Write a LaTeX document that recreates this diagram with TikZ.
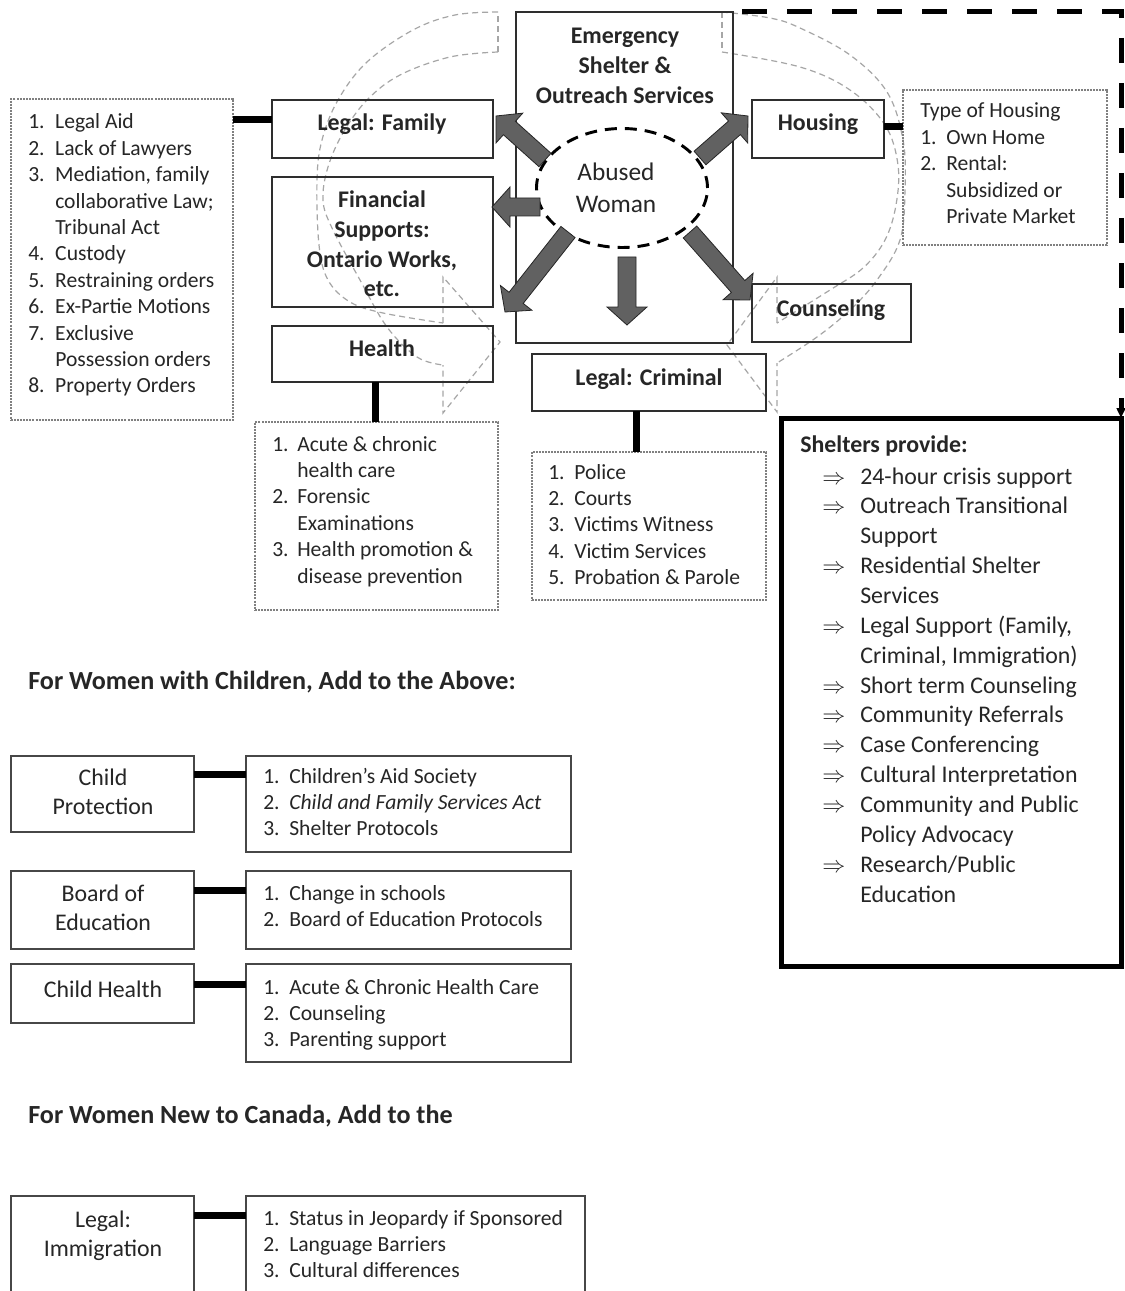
\documentclass[tikz,border=0pt]{standalone}
\usepackage{fontspec}
\setmainfont{Carlito}
\usetikzlibrary{calc,arrows.meta,shapes.geometric}
\newcommand\fS{\fontsize{16.2}{19.8}\selectfont}
\newcommand\fB{\fontsize{17.9}{22.2}\selectfont}
\newcommand\fH{\fontsize{19.6}{24}\selectfont}
\newcommand\fW{\fontsize{19}{23.3}\selectfont}
\newlength\numw
\newcommand\itm[2]{\makebox[\numw][l]{#1}#2}
\newcommand\ltab[1]{\begin{tabular}[t]{@{}l@{}}#1\end{tabular}}
\newcommand\ctab[1]{\begin{tabular}[t]{@{}c@{}}#1\end{tabular}}
\newcommand\bx[6]{\node[#1, minimum width={(#5-#3)*0.75pt}, minimum height={(#6-#4)*0.75pt}] (#2) at ({(#3+#5)/2},{(#4+#6)/2}) {};}
\newcommand\blockarrow[2]{%
  \path ($(#2)!13.5pt!(#1)$) coordinate (ba-hb);
  \filldraw[barrow] ($(#1)!6.75pt!90:(#2)$) -- ($(ba-hb)!6.75pt!90:(#2)$) -- ($(ba-hb)!15pt!90:(#2)$) -- (#2) -- ($(ba-hb)!15pt!-90:(#2)$) -- ($(ba-hb)!6.75pt!-90:(#2)$) -- ($(#1)!6.75pt!-90:(#2)$) -- cycle;}
\begin{document}
\begin{tikzpicture}[x=0.75pt,y=-0.75pt,
  box/.style={draw=black!82, line width=1.2pt, inner sep=0, outer sep=0},
  bbox/.style={draw=black!72, line width=1.1pt, inner sep=0, outer sep=0},
  lbox/.style={draw=black!50, line width=0.8pt, dash pattern=on 1.5pt off 0.8pt, inner sep=0, outer sep=0},
  shel/.style={draw=black, line width=3.75pt, inner sep=0, outer sep=0},
  conn/.style={line width=5.25pt, black},
  txt/.style={inner sep=0, text=black!85},
  curv/.style={draw=black!35, line width=0.9pt, dash pattern=on 4.5pt off 3pt},
  barrow/.style={fill=black!62, draw=black!85, line width=0.6pt},
  bigdash/.style={line width=3.75pt, black, dash pattern=on 18.75pt off 15pt},
  ell/.style={ellipse, draw=black, line width=2.2pt, dash pattern=on 9pt off 6pt, inner sep=0}]
\path[fill=white, use as bounding box] (0,0) rectangle (1124,1291);

% faint curved arrows in the background
\draw[curv] (498,52) -- (498,12);
\draw[curv] plot[smooth, tension=0.6] coordinates {(498,12) (455,15) (413,30) (367,62) (338,100) (322,140) (317,180) (319,245) (328,280) (350,302) (383,313) (443,323)};
\draw[curv] plot[smooth, tension=0.6] coordinates {(498,52) (450,57) (400,75) (367,100) (343,133) (328,167) (323,200) (332,228) (360,280) (387,327) (417,357) (443,365)};
\draw[curv] (443,323) -- (443,277) -- (500,342) -- (443,413) -- (443,365);
\draw[curv] (722,12) -- (722,52);
\draw[curv] plot[smooth, tension=0.6] coordinates {(722,12) (770,18) (800,28) (850,55) (887,92) (903,140) (905,190) (900,240) (877,280) (850,310) (817,337) (777,363)};
\draw[curv] plot[smooth, tension=0.6] coordinates {(722,52) (800,67) (850,90) (885,125) (898,165) (896,205) (885,240) (863,268) (830,290) (777,323)};
\draw[curv] (777,323) -- (777,277) -- (727,345) -- (777,412) -- (777,363);

% boxes
\bx{lbox}{llist}{11}{99}{233}{420}
\bx{box}{lfam}{272}{100}{493}{158}
\bx{box}{fin}{272}{177}{493}{307}
\bx{box}{hea}{272}{326}{493}{382}
\bx{lbox}{hlist}{255}{422}{498}{610}
\bx{box}{emerg}{516}{12}{733}{343}
\bx{box}{hous}{752}{100}{884}{158}
\bx{lbox}{houslist}{903}{90}{1107}{245}
\bx{box}{couns}{752}{284}{911}{342}
\bx{box}{crim}{532}{354}{766}{411}
\bx{lbox}{crimlist}{532}{452}{766}{600}
\bx{shel}{shelter}{781}{418}{1121}{966}
\bx{bbox}{cp}{11}{756}{194}{832}
\bx{bbox}{cpl}{246}{756}{571}{852}
\bx{bbox}{be}{11}{871}{194}{949}
\bx{bbox}{bel}{246}{871}{571}{949}
\bx{bbox}{ch}{11}{964}{194}{1023}
\bx{bbox}{chl}{246}{964}{571}{1062}
\bx{bbox}{li}{11}{1196}{194}{1310}
\bx{bbox}{lil}{246}{1196}{585}{1310}

% abused woman ellipse
\node[ell, minimum width=171*0.75pt, minimum height=119*0.75pt] (aw) at (622,188) {};

% block arrows
\coordinate (a1s) at (545,160); \coordinate (a1e) at (496,116);
\coordinate (a2s) at (540,207); \coordinate (a2e) at (492,207);
\coordinate (a3s) at (568,232); \coordinate (a3e) at (505,312);
\coordinate (a4s) at (627,257); \coordinate (a4e) at (627,325);
\coordinate (a5s) at (690,232); \coordinate (a5e) at (750,300);
\coordinate (a6s) at (700,158); \coordinate (a6e) at (748,116);
\blockarrow{a1s}{a1e}
\blockarrow{a2s}{a2e}
\blockarrow{a3s}{a3e}
\blockarrow{a4s}{a4e}
\blockarrow{a5s}{a5e}
\blockarrow{a6s}{a6e}

% connectors
\draw[conn] ([yshift=6.75pt]lfam.west) -- ([yshift=6.75pt]lfam.west -| llist.east);
\draw[conn] ([xshift=-4.9pt]hea.south) -- ([xshift=-4.9pt]hea.south |- hlist.north);
\draw[conn] ([xshift=-9.75pt]crim.south) -- ([xshift=-9.75pt]crim.south |- crimlist.north);
\draw[conn] ([yshift=1.5pt]hous.east) -- ([yshift=1.5pt]hous.east -| houslist.west);
\draw[conn] ([yshift=-13.5pt]cp.north east) -- ([yshift=-13.5pt]cp.north east -| cpl.west);
\draw[conn] ([yshift=-14.25pt]be.north east) -- ([yshift=-14.25pt]be.north east -| bel.west);
\draw[conn] ([yshift=-15pt]ch.north east) -- ([yshift=-15pt]ch.north east -| chl.west);
\draw[conn] ([yshift=-14.25pt]li.north east) -- ([yshift=-14.25pt]li.north east -| lil.west);
\draw[bigdash, -{Triangle[length=7.5pt,width=6.5pt]}] ([xshift=6.75pt]emerg.north east) -| (shelter.north east);

% titles
\node[txt, anchor=base, font=\fB\bfseries] (t-em) at (625,44) {\ctab{Emergency\\Shelter \&\\Outreach Services}};
\node[txt, anchor=base, font=\fW] (t-aw) at (616,181) {\ctab{Abused\\Woman}};
\node[txt, anchor=base, font=\fB\bfseries] (t-lfam) at (382,131) {Legal: Family};
\node[txt, anchor=base, font=\fB\bfseries] (t-fin) at (382,208) {\ctab{Financial\\Supports:\\Ontario Works,\\etc.}};
\node[txt, anchor=base, font=\fB\bfseries] (t-hea) at (382,356) {Health};
\node[txt, anchor=base, font=\fB\bfseries] (t-hous) at (818,131) {Housing};
\node[txt, anchor=base, font=\fB\bfseries] (t-couns) at (831,316) {Counseling};
\node[txt, anchor=base, font=\fB\bfseries] (t-crim) at (649,385) {Legal: Criminal};

% lists
\node[txt, anchor=base west] (t-llist) at (28,129) {\setlength\numw{20.25pt}\fS\ltab{%
\itm{1.}{Legal Aid}\\ \itm{2.}{Lack of Lawyers}\\ \itm{3.}{Mediation, family}\\ \itm{}{collaborative Law;}\\ \itm{}{Tribunal Act}\\ \itm{4.}{Custody}\\ \itm{5.}{Restraining orders}\\ \itm{6.}{Ex-Partie Motions}\\ \itm{7.}{Exclusive}\\ \itm{}{Possession orders}\\ \itm{8.}{Property Orders}}};
\node[txt, anchor=base west] (t-hlist) at (272,451) {\setlength\numw{18.75pt}\fS\ltab{%
\itm{1.}{Acute \& chronic}\\ \itm{}{health care}\\ \itm{2.}{Forensic}\\ \itm{}{Examinations}\\ \itm{3.}{Health promotion \&}\\ \itm{}{disease prevention}}};
\node[txt, anchor=base west] (t-clist) at (548,479) {\setlength\numw{19.5pt}\fS\ltab{%
\itm{1.}{Police}\\ \itm{2.}{Courts}\\ \itm{3.}{Victims Witness}\\ \itm{4.}{Victim Services}\\ \itm{5.}{Probation \& Parole}}};
\node[txt, anchor=base west] (t-houslist) at (920,118) {\setlength\numw{19.5pt}\fS\ltab{%
Type of Housing\\ \itm{1.}{Own Home}\\ \itm{2.}{Rental:}\\ \itm{}{Subsidized or}\\ \itm{}{Private Market}}};
\node[txt, anchor=base west, font=\fB\bfseries] (t-shel) at (800,452) {Shelters provide:};
\node[txt, anchor=base west] (t-shellist) at (822,484) {\setlength\numw{28.5pt}\fontsize{17.9}{22.4}\selectfont\ltab{%
\itm{$\Rightarrow$}{24-hour crisis support}\\ \itm{$\Rightarrow$}{Outreach Transitional}\\ \itm{}{Support}\\ \itm{$\Rightarrow$}{Residential Shelter}\\ \itm{}{Services}\\ \itm{$\Rightarrow$}{Legal Support (Family,}\\ \itm{}{Criminal, Immigration)}\\ \itm{$\Rightarrow$}{Short term Counseling}\\ \itm{$\Rightarrow$}{Community Referrals}\\ \itm{$\Rightarrow$}{Case Conferencing}\\ \itm{$\Rightarrow$}{Cultural Interpretation}\\ \itm{$\Rightarrow$}{Community and Public}\\ \itm{}{Policy Advocacy}\\ \itm{$\Rightarrow$}{Research/Public}\\ \itm{}{Education}}};

% lower part
\node[txt, anchor=base west, font=\fH\bfseries] (h-child) at (28,689) {For Women with Children, Add to the Above:};
\node[txt, anchor=base west, font=\fH\bfseries] (h-new) at (28,1123) {For Women New to Canada, Add to the};
\node[txt, anchor=base, font=\fB] (t-cp) at (103,785) {\ctab{Child\\Protection}};
\node[txt, anchor=base, font=\fB] (t-be) at (103,901) {\ctab{Board of\\Education}};
\node[txt, anchor=base, font=\fB] (t-ch) at (103,997) {Child Health};
\node[txt, anchor=base, font=\fB] (t-li) at (103,1227) {\ctab{Legal:\\Immigration}};
\node[txt, anchor=base west] (t-cpl) at (263,783) {\setlength\numw{19.5pt}\fS\ltab{%
\itm{1.}{Children’s Aid Society}\\ \itm{2.}{\textit{Child and Family Services Act}}\\ \itm{3.}{Shelter Protocols}}};
\node[txt, anchor=base west] (t-bel) at (263,900) {\setlength\numw{19.5pt}\fS\ltab{%
\itm{1.}{Change in schools}\\ \itm{2.}{Board of Education Protocols}}};
\node[txt, anchor=base west] (t-chl) at (263,994) {\setlength\numw{19.5pt}\fS\ltab{%
\itm{1.}{Acute \& Chronic Health Care}\\ \itm{2.}{Counseling}\\ \itm{3.}{Parenting support}}};
\node[txt, anchor=base west] (t-lil) at (263,1225) {\setlength\numw{19.5pt}\fS\ltab{%
\itm{1.}{Status in Jeopardy if Sponsored}\\ \itm{2.}{Language Barriers}\\ \itm{3.}{Cultural differences}}};
\end{tikzpicture}
\end{document}
